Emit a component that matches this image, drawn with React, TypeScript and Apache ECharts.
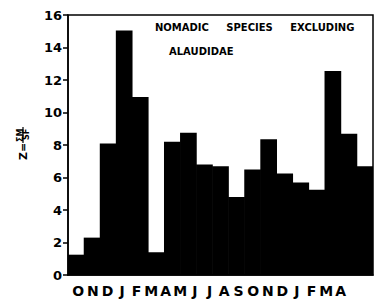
import React, { useEffect, useRef } from "react";
import * as echarts from "echarts";

const months = ["O", "N", "D", "J", "F", "M", "A", "M", "J", "J", "A", "S", "O", "N", "D", "J", "F", "M", "A"];
const zValues = [1.25, 2.3, 8.1, 15.05, 10.95, 1.4, 8.2, 8.75, 6.8, 6.7, 4.8, 6.5, 8.35, 6.25, 5.7, 5.25, 12.55, 8.7, 6.7];
const yTicks = [0, 2, 4, 6, 8, 10, 12, 14, 16];
const titleLine1 = "NOMADIC     SPECIES     EXCLUDING";
const titleLine2 = "ALAUDIDAE";

const FONT = "'DejaVu Sans', 'Liberation Sans', sans-serif";

export default function App() {
  const ref = useRef<HTMLDivElement>(null);
  useEffect(() => {
    if (!ref.current) return;
    const chart = echarts.init(ref.current, null, { renderer: "svg" });
    const cats = months.map((m, i) => m + "_" + i);
    chart.setOption({
      animation: false,
      backgroundColor: "#fff",
      grid: [
        { left: 68, right: 2, top: 15, bottom: 24, show: true, borderColor: "#000", borderWidth: 1.5, backgroundColor: "transparent" },
        { left: 71, right: 27, top: 15, bottom: 24, show: false },
      ],
      xAxis: [
        {
          type: "category",
          gridIndex: 0,
          data: cats,
          axisLine: { show: true, lineStyle: { color: "#000", width: 1.5 } },
          axisTick: { show: false },
          axisLabel: { show: false },
          splitLine: { show: false },
          splitArea: { show: false },
        },
        {
          type: "category",
          gridIndex: 1,
          data: months,
          axisLine: { show: false },
          axisTick: { show: false },
          splitLine: { show: false },
          splitArea: { show: false },
          axisLabel: {
            show: true,
            interval: 0,
            margin: 9,
            color: "#000",
            fontFamily: FONT,
            fontWeight: "bold",
            fontSize: 14,
          },
        },
      ],
      yAxis: [
        {
          type: "value",
          gridIndex: 0,
          min: 0,
          max: 16,
          interval: 2,
          splitLine: { show: false },
          splitArea: { show: false },
          axisLine: { show: true, lineStyle: { color: "#000", width: 1.5 } },
          axisTick: { show: true, length: 5, lineStyle: { color: "#000", width: 1.5 } },
          axisLabel: {
            color: "#000",
            fontFamily: FONT,
            fontWeight: "bold",
            fontSize: 13,
            margin: 6,
            formatter: (v: number) => (yTicks.includes(v) ? String(v) : ""),
          },
        },
        {
          type: "value",
          gridIndex: 1,
          min: 0,
          max: 16,
          show: false,
        },
      ],
      series: [
        {
          type: "bar",
          xAxisIndex: 0,
          yAxisIndex: 0,
          data: zValues,
          barWidth: "104%",
          barGap: "-100%",
          itemStyle: { color: "#000", borderWidth: 0 },
        },
      ],
      graphic: [
        {
          type: "text",
          left: 155,
          top: 22,
          style: {
            text: titleLine1,
            fill: "#000",
            font: `bold 10px ${FONT}`,
          },
        },
        {
          type: "text",
          left: 169,
          top: 46,
          style: {
            text: titleLine2,
            fill: "#000",
            font: `bold 10px ${FONT}`,
          },
        },
        {
          type: "text",
          x: 23,
          y: 160,
          rotation: Math.PI / 2,
          style: {
            text: "Z=",
            fill: "#000",
            font: `bold 11px ${FONT}`,
            textAlign: "left",
            textVerticalAlign: "middle",
          },
        },
        {
          type: "text",
          x: 20,
          y: 142,
          rotation: Math.PI / 2,
          style: {
            text: "ΣM",
            fill: "#000",
            font: `bold 8px ${FONT}`,
            textAlign: "left",
            textVerticalAlign: "middle",
          },
        },
        {
          type: "line",
          shape: { x1: 23, y1: 143, x2: 23, y2: 127 },
          style: { stroke: "#000", lineWidth: 1.2 },
        },
        {
          type: "text",
          x: 26.5,
          y: 140,
          rotation: Math.PI / 2,
          style: {
            text: "SF",
            fill: "#000",
            font: `bold 8px ${FONT}`,
            textAlign: "left",
            textVerticalAlign: "middle",
          },
        },
      ],
    });
    return () => chart.dispose();
  }, []);
  return (
    <div
      ref={ref}
      style={{ position: "fixed", left: 0, top: 0, width: 375, height: 299, background: "#fff" }}
    />
  );
}
